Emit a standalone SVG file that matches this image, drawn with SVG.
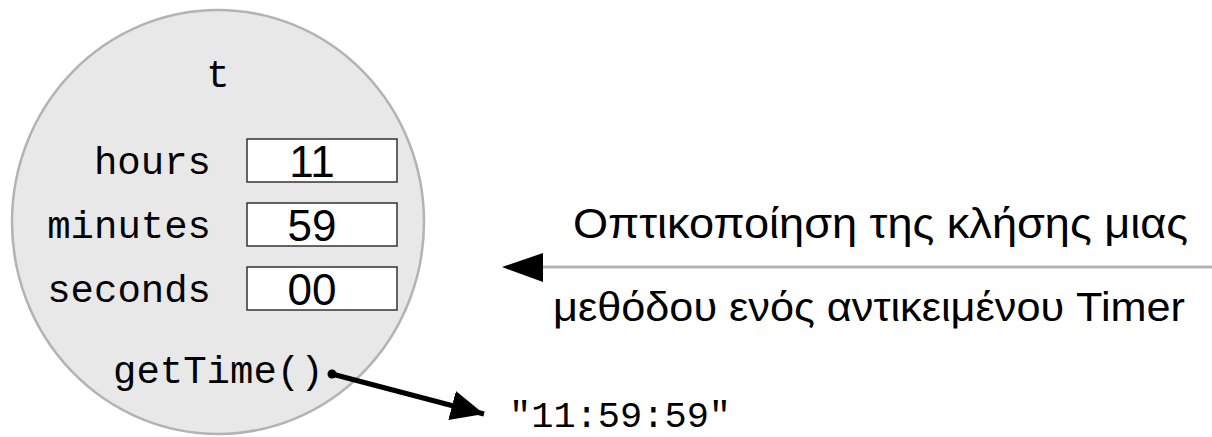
<svg xmlns="http://www.w3.org/2000/svg" width="1212" height="437" viewBox="0 0 1212 437">
<style>
.mono{font-family:"Liberation Mono","DejaVu Sans Mono",monospace;font-size:39px;fill:#000}
.num{font-family:"Liberation Sans",Arial,sans-serif;font-size:44px;fill:#000;text-anchor:middle}
.box{fill:#fff;stroke:#333;stroke-width:1.5}
.gr{font-family:"Liberation Sans",Arial,sans-serif;fill:#000}
</style>
<defs>
<marker id="ah" markerUnits="userSpaceOnUse" markerWidth="36" markerHeight="32" refX="33" refY="15" orient="auto">
<path d="M0,0 L33,15 L0,30 Z" fill="#000"/>
</marker>
</defs>
<g id="object-t">
<ellipse cx="218" cy="222" rx="206" ry="212" fill="#e8e8e8" stroke="#b3b3b3" stroke-width="2.5"/>
<text class="mono" x="218" y="87" text-anchor="middle">t</text>
</g>
<g id="field-hours">
<text class="mono" x="211" y="174" text-anchor="end">hours</text>
<rect class="box" x="247" y="139" width="150" height="43"/>
<text class="num" x="312" y="177">11</text>
</g>
<g id="field-minutes">
<text class="mono" x="211" y="238" text-anchor="end">minutes</text>
<rect class="box" x="247" y="203" width="150" height="43"/>
<text class="num" x="312" y="241">59</text>
</g>
<g id="field-seconds">
<text class="mono" x="211" y="302" text-anchor="end">seconds</text>
<rect class="box" x="247" y="267" width="150" height="43"/>
<text class="num" x="312" y="305">00</text>
</g>
<g id="method-getTime">
<text class="mono" x="113" y="383">getTime()</text>
</g>
<g id="result">
<text class="mono" x="509" y="427" style="font-size:37px">"11:59:59"</text>
</g>
<g id="caption">
<text class="gr" x="573" y="238" font-size="42" textLength="615" lengthAdjust="spacingAndGlyphs">Οπτικοποίηση της κλήσης μιας</text>
<text class="gr" x="553" y="321" font-size="40" textLength="632" lengthAdjust="spacingAndGlyphs">μεθόδου ενός αντικειμένου Timer</text>
</g>
<g id="connectors">
<circle cx="332" cy="374" r="4.5" fill="#000"/>
<line x1="332" y1="374" x2="484" y2="414" stroke="#000" stroke-width="5" marker-end="url(#ah)"/>
<line x1="530" y1="267" x2="1212" y2="267" stroke="#b3b3b3" stroke-width="3"/>
<path d="M502,267 L543,253 L543,282 Z" fill="#000"/>
</g>
</svg>
